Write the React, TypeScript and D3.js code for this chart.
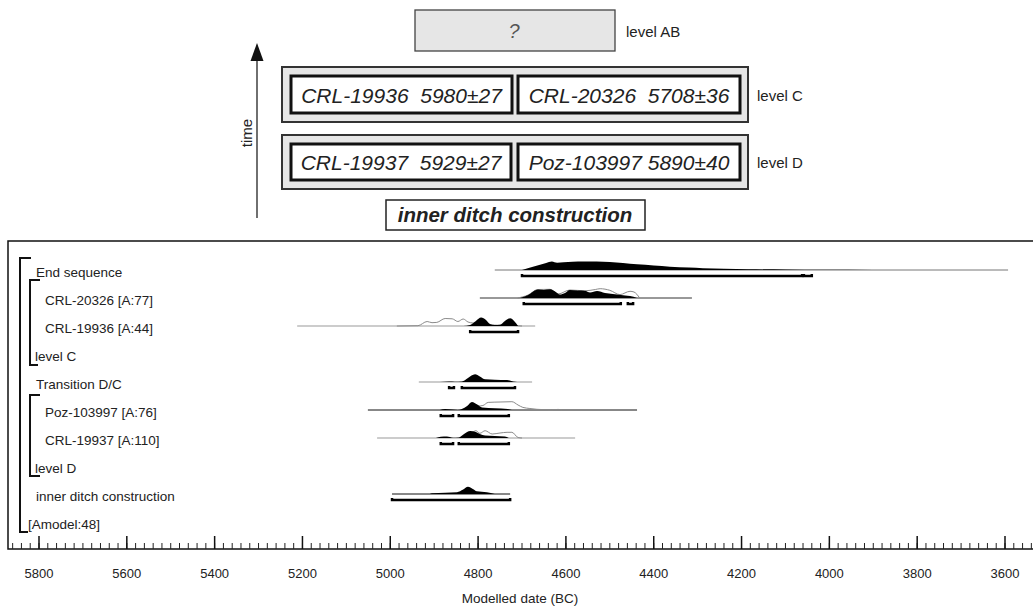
import React from "react";
import * as d3 from "d3";

// ---------- DATA ----------
const rowLabels = [
  "End sequence",
  "CRL-20326 [A:77]",
  "CRL-19936 [A:44]",
  "level C",
  "Transition D/C",
  "Poz-103997 [A:76]",
  "CRL-19937 [A:110]",
  "level D",
  "inner ditch construction",
  "[Amodel:48]",
];

type P = [number, number];

// posterior (filled) distributions: [year BC, relative density]
const endSeqPost: P[] = [[4700,0],[4685,0.2],[4665,0.45],[4645,0.7],[4632,0.85],[4620,0.72],[4605,0.77],[4585,0.82],[4560,0.84],[4530,0.85],[4500,0.8],[4470,0.7],[4438,0.57],[4400,0.45],[4363,0.33],[4320,0.24],[4288,0.17],[4240,0.12],[4185,0.08],[4100,0.04],[4015,0.015],[3900,0]];
const crl20326Post: P[] = [[4705,0],[4686,0.3],[4664,0.85],[4650,0.8],[4636,0.87],[4623,0.6],[4614,0.35],[4602,0.5],[4591,0.8],[4573,0.75],[4557,0.72],[4545,0.55],[4529,0.7],[4511,0.5],[4484,0.35],[4465,0.25],[4454,0.2],[4438,0]];
const crl20326Prior: P[] = [[4710,0],[4686,0.3],[4664,0.85],[4636,0.87],[4618,0.4],[4591,0.8],[4557,0.72],[4533,0.85],[4522,0.93],[4500,0.77],[4477,0.34],[4454,0.67],[4445,0.6],[4432,0]];
const crl19936Post: P[] = [[4834,0],[4818,0.1],[4805,0.5],[4793,0.84],[4782,0.6],[4773,0.2],[4762,0.1],[4750,0.12],[4739,0.5],[4727,0.77],[4718,0.5],[4709,0]];
const crl19936Prior: P[] = [[4985,0],[4937,0.03],[4916,0.45],[4905,0.33],[4894,0.36],[4875,0.75],[4859,0.72],[4846,0.45],[4834,0.7],[4823,0.4],[4812,0.3],[4795,0.2],[4775,0.1],[4750,0.08],[4720,0.05],[4700,0]];
const transPost: P[] = [[4887,0],[4866,0.04],[4853,0.03],[4837,0.05],[4823,0.4],[4807,0.77],[4796,0.55],[4784,0.27],[4762,0.23],[4734,0.2],[4720,0.05],[4711,0]];
const pozPost: P[] = [[4887,0],[4875,0.1],[4859,0.05],[4846,0],[4837,0.1],[4825,0.4],[4814,0.8],[4802,0.55],[4791,0.26],[4762,0.18],[4732,0.1],[4723,0]];
const pozPrior: P[] = [[4830,0],[4814,0.5],[4800,0.4],[4789,0.45],[4777,0.76],[4750,0.8],[4723,0.83],[4709,0.5],[4698,0.26],[4682,0.15],[4666,0.07],[4648,0.03],[4632,0],[4618,0.06],[4609,0]];
const crl19937Post: P[] = [[4896,0],[4885,0.12],[4871,0.15],[4857,0.03],[4844,0.05],[4832,0.4],[4818,0.7],[4805,0.6],[4796,0.4],[4784,0.25],[4762,0.2],[4739,0.15],[4730,0]];
const crl19937Prior: P[] = [[4830,0],[4814,0.5],[4805,0.73],[4796,0.47],[4784,0.73],[4768,0.4],[4750,0.5],[4734,0.57],[4723,0.57],[4709,0.05],[4700,0]];
const ditchPost: P[] = [[4910,0],[4905,0.08],[4875,0.13],[4848,0.18],[4834,0.45],[4823,0.73],[4812,0.5],[4803,0.27],[4780,0.17],[4762,0]];

// full span lines [from, to] (years BC)
const spans: ([number, number] | null)[] = [
  [4762, 3593], [4796, 4313], [5212, 4670], null, [4935, 4677],
  [5051, 4438], [5030, 4579], null, [4996, 4727], null,
];
// 95.4% ranges
const ranges: [number, number][][] = [
  [[4700, 4062], [4058, 4040]],
  [[4696, 4475], [4459, 4447]],
  [[4818, 4709]],
  [],
  [[4866, 4855], [4837, 4716]],
  [[4885, 4857], [4844, 4730]],
  [[4885, 4857], [4844, 4730]],
  [],
  [[4996, 4727]],
  [],
];
const posteriors: (P[] | null)[] = [endSeqPost, crl20326Post, crl19936Post, null, transPost, pozPost, crl19937Post, null, ditchPost, null];
const priors: (P[] | null)[] = [null, crl20326Prior, crl19936Prior, null, null, pozPrior, crl19937Prior, null, null, null];

const majorTickYears = [5800, 5600, 5400, 5200, 5000, 4800, 4600, 4400, 4200, 4000, 3800, 3600];
const axisTitle = "Modelled date (BC)";

// top diagram
const levelC = [["CRL-19936", "5980±27"], ["CRL-20326", "5708±36"]];
const levelD = [["CRL-19937", "5929±27"], ["Poz-103997", "5890±40"]];

// ---------- COMPONENT ----------
export default function App() {
  const x = d3.scaleLinear().domain([5800, 3600]).range([39, 1005]);
  const h = d3.scaleLinear().domain([0, 1]).range([0, 10]);
  const rowY = (i: number) => 270 + 28 * i;
  const labelX = [36, 45, 45, 35, 36, 45, 45, 35, 36, 28];
  const spanColor = ["#777", "#333", "#999", "", "#999", "#111", "#999", "", "#111", ""];
  const font = "Arial, 'Liberation Sans', sans-serif";
  const minor = d3.range(5860, 3539, -20);

  const area = (y0: number) =>
    d3.area<P>().x(d => x(d[0])).y0(y0).y1(d => y0 - h(d[1])).curve(d3.curveMonotoneX);
  const line = (y0: number) =>
    d3.line<P>().x(d => x(d[0])).y(d => y0 - h(d[1])).curve(d3.curveMonotoneX);

  const boxText = (a: string[]) => (a[0] === "Poz-103997" ? `${a[0]} ${a[1]}` : `${a[0]}  ${a[1]}`);

  return (
    <svg width={1033} height={606} style={{ position: "absolute", left: 0, top: 0, background: "#fff" }} fontFamily={font}>
      <rect width={1033} height={606} fill="#fff" />
      {/* ---- top diagram ---- */}
      <rect x={415} y={10} width={200} height={41} fill="#e6e6e6" stroke="#444" strokeWidth={1.3} />
      <text x={514} y={38} textAnchor="middle" fontSize={20} fontStyle="italic" fill="#555">?</text>
      <text x={626} y={37} fontSize={15} fill="#222">level AB</text>

      <rect x={282} y={67} width={466} height={55} fill="#e6e6e6" stroke="#333" strokeWidth={2} />
      {levelC.map((a, i) => {
        const bx = i === 0 ? 291 : 518;
        const bw = i === 0 ? 221 : 222;
        return (
          <g key={"c" + i}>
            <rect x={bx} y={76} width={bw} height={37} fill="#fff" stroke="#111" strokeWidth={3} />
            <text x={bx + bw / 2} y={103} textAnchor="middle" fontSize={21} fontStyle="italic" fill="#222" style={{ whiteSpace: "pre" }}>{boxText(a)}</text>
          </g>
        );
      })}
      <text x={757} y={101} fontSize={15} fill="#222">level C</text>

      <rect x={282} y={135} width={466} height={54} fill="#e6e6e6" stroke="#333" strokeWidth={2} />
      {levelD.map((a, i) => {
        const bx = i === 0 ? 291 : 518;
        const bw = i === 0 ? 220 : 222;
        return (
          <g key={"d" + i}>
            <rect x={bx} y={144} width={bw} height={36} fill="#fff" stroke="#111" strokeWidth={3} />
            <text x={bx + bw / 2} y={170} textAnchor="middle" fontSize={21} fontStyle="italic" fill="#222" style={{ whiteSpace: "pre" }}>{boxText(a)}</text>
          </g>
        );
      })}
      <text x={757} y={168} fontSize={15} fill="#222">level D</text>

      <rect x={386} y={200} width={259} height={30} fill="#fff" stroke="#222" strokeWidth={1.5} />
      <text x={515} y={222} textAnchor="middle" fontSize={20.5} fontStyle="italic" fontWeight="bold" fill="#222">inner ditch construction</text>

      <line x1={257} y1={218} x2={257} y2={58} stroke="#222" strokeWidth={1.3} />
      <path d="M257,43 L250.5,61 L263.5,61 Z" fill="#111" />
      <text transform="translate(252,133) rotate(-90)" textAnchor="middle" fontSize={15} fill="#222">time</text>

      {/* ---- bottom chart frame ---- */}
      <path d="M1033,241 H8 V549 H1033" fill="none" stroke="#111" strokeWidth={1.5} />

      {/* brackets */}
      <path d="M31,258 H20 V532 H28" fill="none" stroke="#111" strokeWidth={2} />
      <path d="M40,280 H30 V365 H38" fill="none" stroke="#111" strokeWidth={2} />
      <path d="M40,395 H30 V476 H40" fill="none" stroke="#111" strokeWidth={2} />

      {rowLabels.map((lab, i) => (
        <text key={lab} x={labelX[i]} y={rowY(i) + 7} fontSize={13.5} fill="#222">{lab}</text>
      ))}

      {rowLabels.map((lab, i) => {
        const y0 = rowY(i);
        const sp = spans[i];
        const pr = priors[i];
        const po = posteriors[i];
        return (
          <g key={"r" + i}>
            {sp && <line x1={x(sp[0])} x2={x(sp[1])} y1={y0} y2={y0} stroke={spanColor[i]} strokeWidth={1} />}
            {pr && <path d={line(y0)(pr) || ""} fill="none" stroke="#8a8a8a" strokeWidth={1} />}
            {po && <path d={area(y0)(po) || ""} fill="#000" />}
            {ranges[i].map((r, j) => (
              <path key={j} d={`M${x(r[0])},${y0 + 4} V${y0 + 6} H${x(r[1])} V${y0 + 4}`} fill="none" stroke="#000" strokeWidth={2.5} />
            ))}
          </g>
        );
      })}

      {/* axis */}
      {minor.map(v => (
        <line key={"m" + v} x1={x(v)} x2={x(v)} y1={549} y2={543} stroke="#222" strokeWidth={1} />
      ))}
      {majorTickYears.map(v => (
        <g key={"M" + v}>
          <line x1={x(v)} x2={x(v)} y1={549} y2={536} stroke="#111" strokeWidth={1.5} />
          <text x={x(v)} y={578} textAnchor="middle" fontSize={13} fill="#222">{String(v)}</text>
        </g>
      ))}
      <text x={520} y={603} textAnchor="middle" fontSize={13.5} fill="#222">{axisTitle}</text>
    </svg>
  );
}
